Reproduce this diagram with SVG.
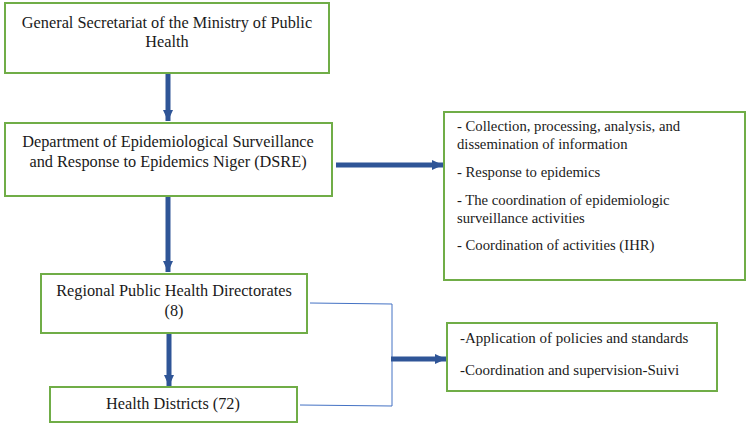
<svg xmlns="http://www.w3.org/2000/svg" width="750" height="428" viewBox="0 0 750 428">
<style>
.box{fill:#fff;stroke:#70AD47;stroke-width:2}
.t{font-size:16.3px;fill:#1a1a1a}
.s{font-size:14.7px;fill:#1a1a1a}
.s2{font-size:15px;fill:#1a1a1a}
.c{text-anchor:middle}
.thick{stroke:#2F5597;stroke-width:5;fill:none}
.thin{stroke:#4472C4;stroke-width:1;fill:none}
</style>
<defs>
<marker id="ah" markerUnits="userSpaceOnUse" markerWidth="12" markerHeight="12" viewBox="0 0 12 12" refX="11" refY="6" orient="auto">
<path d="M0,1 L11,6 L0,11 Z" fill="#2F5597"/>
</marker>
</defs>
<rect width="750" height="428" fill="#fff"/>
<g id="connectors">
<line class="thick" x1="168" y1="74" x2="168" y2="121" marker-end="url(#ah)"/>
<line class="thick" x1="336" y1="165" x2="443" y2="165" stroke-width="4" marker-end="url(#ah)"/>
<line class="thick" x1="168" y1="197" x2="168" y2="272" marker-end="url(#ah)"/>
<line class="thick" x1="169" y1="334" x2="169" y2="386" marker-end="url(#ah)"/>
<polyline class="thin" points="310,303 392,304 392,406 300,405"/>
<line class="thick" x1="391" y1="359" x2="446" y2="359" stroke-width="4" marker-end="url(#ah)"/>
</g>
<g font-family="Liberation Serif, serif">
<g id="gen-sec">
<rect class="box" x="5" y="3" width="324" height="70"/>
<text class="t c" x="167" y="28">General Secretariat of the Ministry of Public</text>
<text class="t c" x="167" y="47">Health</text>
</g>
<g id="dsre">
<rect class="box" x="5" y="123" width="327" height="73"/>
<text class="t c" x="168" y="147">Department of Epidemiological Surveillance</text>
<text class="t c" x="168" y="167">and Response to Epidemics Niger (DSRE)</text>
</g>
<g id="dsre-tasks">
<rect class="box" x="444" y="112" width="301" height="168"/>
<text class="s" x="457" y="131">- Collection, processing, analysis, and</text>
<text class="s" x="457" y="149">dissemination of information</text>
<text class="s" x="457" y="177">- Response to epidemics</text>
<text class="s" x="457" y="205">- The coordination of epidemiologic</text>
<text class="s" x="457" y="223">surveillance activities</text>
<text class="s" x="457" y="250">- Coordination of activities (IHR)</text>
</g>
<g id="regional">
<rect class="box" x="41" y="274" width="266" height="59"/>
<text class="t c" x="174" y="296">Regional Public Health Directorates</text>
<text class="t c" x="174" y="316">(8)</text>
</g>
<g id="districts">
<rect class="box" x="50" y="387" width="247" height="35"/>
<text class="t c" x="173" y="409">Health Districts (72)</text>
</g>
<g id="regional-tasks">
<rect class="box" x="447" y="323" width="270" height="68"/>
<text class="s2" x="460" y="343">-Application of policies and standards</text>
<text class="s2" x="460" y="375">-Coordination and supervision-Suivi</text>
</g>
</g>
</svg>
